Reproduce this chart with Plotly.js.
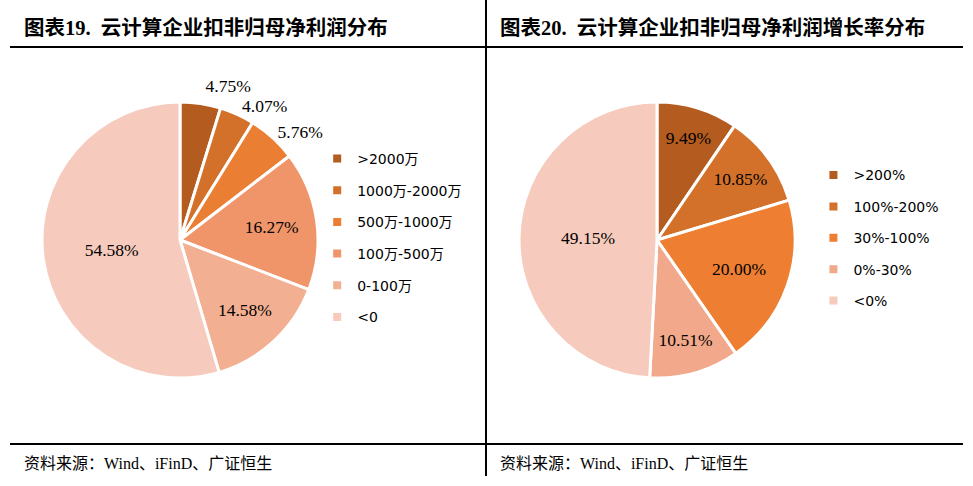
<!DOCTYPE html>
<html>
<head>
<meta charset="utf-8">
<script src="https://cdn.plot.ly/plotly-3.0.1.min.js"></script>
<style>
html,body{margin:0;padding:0;background:#fff;}
#chart{width:973px;height:486px;}
path.textline{stroke-opacity:0 !important;}
</style>
</head>
<body>
<div id="chart"></div>
<script>
// ---- Data ----
const title1 = "图表19.  云计算企业扣非归母净利润分布";
const title2 = "图表20.  云计算企业扣非归母净利润增长率分布";
const sourceText = "资料来源：Wind、iFinD、广证恒生";

const profitLabels = [">2000万", "1000万-2000万", "500万-1000万", "100万-500万", "0-100万", "<0"];
const profitValues = [4.75, 4.07, 5.76, 16.27, 14.58, 54.58];
const profitColors = ["#B45B1F", "#D3712A", "#EA7E32", "#F0956A", "#F3AF91", "#F6CABC"];
const profitTextPos = ["outside", "outside", "outside", "inside", "inside", "inside"];

const growthLabels = [">200%", "100%-200%", "30%-100%", "0%-30%", "<0%"];
const growthValues = [9.49, 10.85, 20.00, 10.51, 49.15];
const growthColors = ["#B45B1F", "#D3712A", "#EE7E31", "#F2A88A", "#F6CABC"];
const growthTextPos = ["inside", "inside", "inside", "inside", "inside"];

const numFont = {family: "Liberation Serif, Times New Roman, serif", size: 17.5, color: "#000"};
const legFont = {family: "DejaVu Sans, Noto Sans CJK SC, sans-serif", size: 14, color: "#000"};

function pieTrace(labels, values, colors, textpos, xdom) {
  return {
    type: "pie",
    labels: labels,
    values: values,
    sort: false,
    direction: "clockwise",
    rotation: 0,
    marker: {colors: colors, line: {color: "#fff", width: 3}},
    texttemplate: "%{value:.2f}%",
    textposition: textpos,
    insidetextorientation: "horizontal",
    textfont: numFont,
    insidetextfont: numFont,
    outsidetextfont: numFont,
    hoverinfo: "label+value",
    showlegend: false,
    domain: {x: xdom, y: [0.2222, 0.7901]}
  };
}

const traces = [
  pieTrace(profitLabels, profitValues, profitColors, profitTextPos, [0.04317, 0.32682]),
  pieTrace(growthLabels, growthValues, growthColors, growthTextPos, [0.5334, 0.8171])
];

profitLabels.forEach((lab, i) => {
  traces.push({type: "scatter", mode: "markers", x: [null], y: [null], name: lab,
    legendgroup: "p" + i, legend: "legend",
    marker: {symbol: "square", size: 8, color: profitColors[i]},
    xaxis: "x", yaxis: "y", hoverinfo: "skip"});
});
growthLabels.forEach((lab, i) => {
  traces.push({type: "scatter", mode: "markers", x: [null], y: [null], name: lab,
    legendgroup: "g" + i, legend: "legend2",
    marker: {symbol: "square", size: 8, color: growthColors[i]},
    xaxis: "x", yaxis: "y", hoverinfo: "skip"});
});

const lineStyle = {color: "#000", width: 2};
const layout = {
  width: 973, height: 486,
  margin: {l: 0, r: 0, t: 0, b: 0},
  paper_bgcolor: "#fff", plot_bgcolor: "rgba(0,0,0,0)",
  xaxis: {visible: false, domain: [0, 0.001], fixedrange: true},
  yaxis: {visible: false, domain: [0, 0.001], fixedrange: true},
  legend: {x: 0.326, y: 0.706, xanchor: "left", yanchor: "top", font: legFont,
    traceorder: "grouped", tracegroupgap: 10.5, bgcolor: "rgba(0,0,0,0)", itemclick: false},
  legend2: {x: 0.836, y: 0.672, xanchor: "left", yanchor: "top", font: legFont,
    traceorder: "grouped", tracegroupgap: 10.2, bgcolor: "rgba(0,0,0,0)", itemclick: false},
  shapes: [
    {type: "line", xref: "paper", yref: "paper", x0: 10/973, x1: 963/973, y0: 1 - 47/486, y1: 1 - 47/486, line: lineStyle},
    {type: "line", xref: "paper", yref: "paper", x0: 10/973, x1: 963/973, y0: 1 - 444/486, y1: 1 - 444/486, line: lineStyle},
    {type: "line", xref: "paper", yref: "paper", x0: 486/973, x1: 486/973, y0: 1, y1: 1 - 476/486, line: lineStyle}
  ],
  annotations: [
    {text: "<b>" + title1 + "</b>", xref: "paper", yref: "paper", x: 22/973, y: 1 - 28/486,
     xanchor: "left", yanchor: "middle", showarrow: false,
     font: {family: "Liberation Serif, Noto Sans CJK SC, serif", size: 20.5, color: "#000"}},
    {text: "<b>" + title2 + "</b>", xref: "paper", yref: "paper", x: 498/973, y: 1 - 28/486,
     xanchor: "left", yanchor: "middle", showarrow: false,
     font: {family: "Liberation Serif, Noto Sans CJK SC, serif", size: 20.5, color: "#000"}},
    {text: sourceText, xref: "paper", yref: "paper", x: 22/973, y: 1 - 463/486,
     xanchor: "left", yanchor: "middle", showarrow: false,
     font: {family: "Liberation Serif, Noto Sans CJK SC, serif", size: 16, color: "#000"}},
    {text: sourceText, xref: "paper", yref: "paper", x: 498/973, y: 1 - 463/486,
     xanchor: "left", yanchor: "middle", showarrow: false,
     font: {family: "Liberation Serif, Noto Sans CJK SC, serif", size: 16, color: "#000"}}
  ]
};

Plotly.newPlot("chart", traces, layout, {displayModeBar: false, staticPlot: true});
</script>
</body>
</html>
